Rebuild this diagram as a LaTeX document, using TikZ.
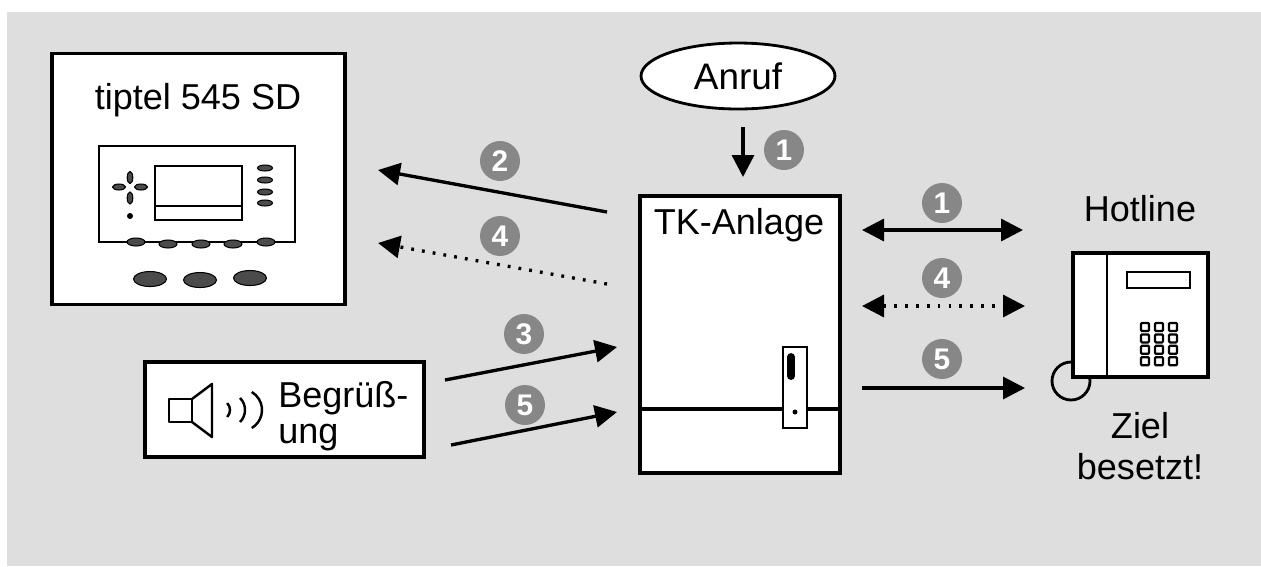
\documentclass[tikz,border=0pt]{standalone}
\usepackage{fontspec}
\setmainfont{Liberation Sans}
\usepackage{tikz}
\usetikzlibrary{arrows.meta,shapes.geometric,positioning}
\definecolor{panelgrey}{HTML}{DEDEDE}
\definecolor{badgegrey}{HTML}{878787}
\definecolor{knobgrey}{HTML}{4B4B4B}

\begin{document}
\begin{tikzpicture}[x=0.02cm, y=0.02cm,
    box/.style={draw, line width=1.8pt, fill=white, inner sep=0pt},
    label/.style={font=\fontsize{20.5}{23}\selectfont, inner sep=0pt},
    badge/.style={circle, fill=badgegrey, text=white, inner sep=0pt,
        minimum size=0.8cm, font=\bfseries\fontsize{17}{17}\selectfont},
    flow/.style={line width=1.9pt, -{Triangle[length=0.44cm,width=0.44cm]}},
    twoway/.style={line width=1.9pt, {Triangle[length=0.44cm,width=0.44cm]}-{Triangle[length=0.44cm,width=0.44cm]}},
    dots/.style={dash pattern=on 1.6pt off 4.6pt},
    knob/.style={fill=knobgrey, draw, line width=0.6pt}]

    \useasboundingbox (0,0) rectangle (1261,-566);
    \fill[panelgrey] (7,-12) rectangle (1261,-566);

    % Anrufbeantworter
    \node[box, minimum width=5.86cm, minimum height=5.02cm] (tiptel) at (198.5,-179) {};
    \node[label] (tiptelname) at (198,-100) {tiptel 545 SD};
    \draw[line width=1.6pt] (99,-146) rectangle (295,-242);
    \draw[line width=1.6pt] (155,-166) rectangle (242,-220);
    \draw[line width=1.6pt] (155,-206) -- (242,-206);
    % Steuerkreuz
    \fill[knob] (130,-177.5) ellipse [x radius=2.8, y radius=6];
    \fill[knob] (130,-198) ellipse [x radius=2.8, y radius=6];
    \fill[knob] (119,-187) ellipse [x radius=6.5, y radius=3];
    \fill[knob] (141,-187) ellipse [x radius=6.5, y radius=3];
    \fill (130,-216) circle (3);
    % Tasten
    \foreach \y in {168,180,192,203}
        \fill[knob] (265,-\y) ellipse [x radius=7.5, y radius=3];
    \foreach \x/\y in {136/242,168/244,201/244,233/244,266/242}
        \fill[knob] (\x,-\y) ellipse [x radius=9, y radius=4];
    \foreach \x/\y in {150/279,200/280,250/278}
        \fill[knob] (\x,-\y) ellipse [x radius=16.5, y radius=7.5];

    % Ansage
    \node[box, minimum width=5.58cm, minimum height=1.9cm] (greeting) at (284.5,-409.5) {};
    \draw[line width=1.4pt, line join=round] (169,-399) rectangle (192,-422);
    \draw[line width=1.4pt, line join=round] (192,-399) -- (212,-384) -- (212,-437) -- (192,-422);
    \draw[line width=1.4pt] (220,-410) ++(-44:10) arc (-44:44:10);
    \draw[line width=1.4pt] (228,-410) ++(-45:17) arc (-45:45:17);
    \draw[line width=1.4pt] (241,-410) ++(-59:21) arc (-59:59:21);
    \node[font=\fontsize{20.5}{20.5}\selectfont, inner sep=0pt, align=left, anchor=west] (greettext) at (278,-416) {Begrüß-\\ung};

    % Anruf und Anlage
    \node[ellipse, draw, line width=1.6pt, fill=white, minimum width=3.88cm,
        minimum height=1.32cm, inner sep=0pt, font=\fontsize{21}{23}\selectfont] (call) at (738,-76) {Anruf};
    \node[box, minimum width=4cm, minimum height=5.54cm] (pbx) at (740,-334.5) {};
    \node[label] (pbxname) at (739,-225) {TK-Anlage};
    \draw[line width=1.8pt] (640,-409) -- (840,-409);
    \draw[line width=1.6pt, fill=white] (783,-347) rectangle (807,-428);
    \draw[line width=4.5pt, line cap=round] (791,-357) -- (791,-376);
    \fill (795,-412) circle (2.5);

    % Hotline
    \draw[line width=1.6pt] (1071,-381) circle (19);
    \node[box, minimum width=2.7cm, minimum height=2.48cm] (phone) at (1140.5,-315) {};
    \draw[line width=1.6pt] (1107,-253) -- (1107,-377);
    \draw[line width=1.6pt] (1127,-272) rectangle (1190,-288);
    \foreach \i in {0,1,2}
        \foreach \j in {0,1,2,3}
            \draw[line width=1.3pt, rounded corners=0.6pt] (1145+14*\i-4,-327-11.4*\j-4) rectangle ++(8,8);
    \node[label] (hotline) at (1140,-209) {Hotline};
    \node[label, align=center] (busy) at (1140,-446) {Ziel\\besetzt!};

    % Pfeile
    \coordinate (c1a) at (743,-127);  \coordinate (c1b) at (743,-177);
    \coordinate (c2a) at (607,-212);  \coordinate (c2b) at (378,-170);
    \coordinate (c4a) at (607,-284);  \coordinate (c4b) at (378,-243);
    \coordinate (c3a) at (445,-380);  \coordinate (c3b) at (617,-347);
    \coordinate (c5a) at (451,-445);  \coordinate (c5b) at (617,-412);
    \coordinate (h1a) at (862,-230);  \coordinate (h1b) at (1023,-230);
    \coordinate (h4a) at (862,-306);  \coordinate (h4b) at (1025,-306);
    \coordinate (h5a) at (862,-388);  \coordinate (h5b) at (1025,-388);

    \draw[flow] (c1a) -- (c1b);
    \draw[flow] (c2a) -- (c2b);
    \draw[flow, dots] (c4a) -- (c4b);
    \draw[flow] (c3a) -- (c3b);
    \draw[flow] (c5a) -- (c5b);
    \draw[twoway] (h1a) -- (h1b);
    \draw[twoway, dots] (h4a) -- (h4b);
    \draw[flow] (h5a) -- (h5b);

    % Schritte
    \node[badge] (s1) at (784,-150) {1};
    \node[badge] (s2) at (500,-161) {2};
    \node[badge] (s4) at (500,-236) {4};
    \node[badge] (s3) at (524,-334) {3};
    \node[badge] (s5) at (525,-405) {5};
    \node[badge] (t1) at (942,-203) {1};
    \node[badge] (t4) at (942,-278) {4};
    \node[badge] (t5) at (942,-359) {5};

\end{tikzpicture}
\end{document}
